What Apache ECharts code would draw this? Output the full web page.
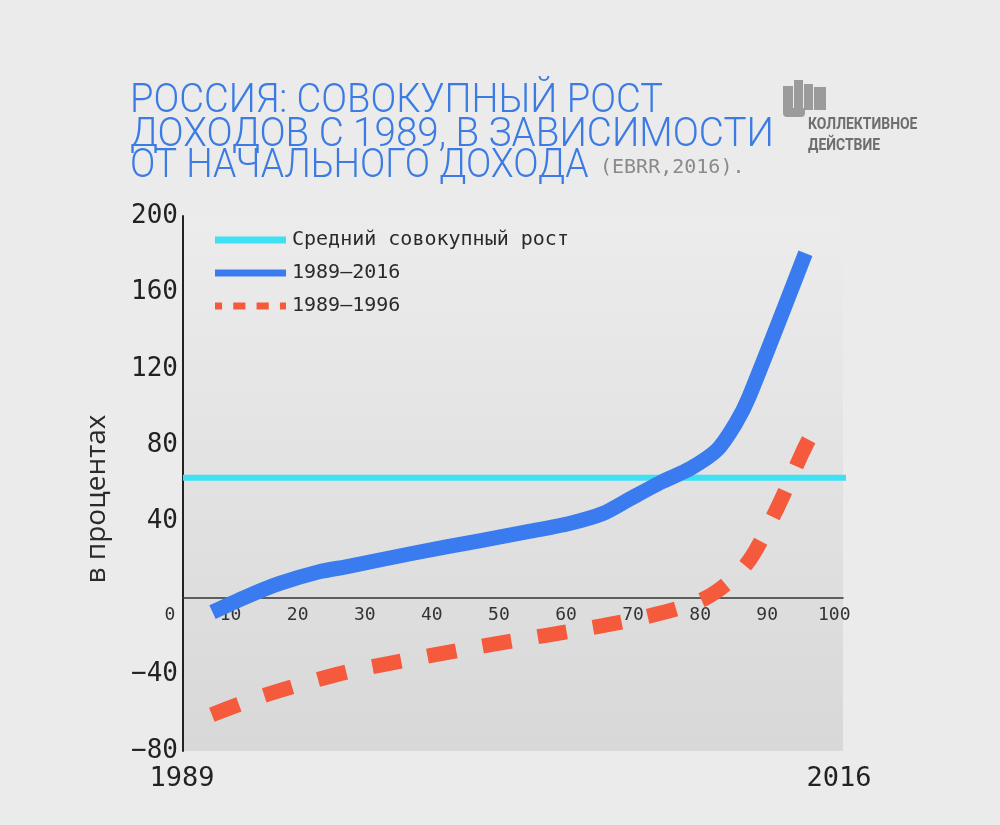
<!DOCTYPE html>
<html>
<head>
<meta charset="utf-8">
<script src="https://cdn.jsdelivr.net/npm/echarts@6/dist/echarts.min.js"></script>
<style>
  html, body { margin: 0; padding: 0; background: #ebebeb; }
  #chart { width: 1000px; height: 825px; }
</style>
</head>
<body>
<div id="chart"></div>
<script>
// ---- data ----
const seriesNames = ['Средний совокупный рост', '1989–2016', '1989–1996'];
const xTickValues = [10, 20, 30, 40, 50, 60, 70, 80, 90, 100];
const yTickValues = [-80, -40, 0, 40, 80, 120, 160, 200];
const avgGrowth = 63;
const avgExtent = [2.9, 101.8];
const pct2016 = [7.3, 12.3, 17.3, 23.2, 27.2, 37.2, 47.1, 54.5, 60.5, 65.5, 69.4, 74.2, 78.6, 82.5, 85.3, 87.3, 95.7];
const val2016 = [-7.3, 0.7, 7.7, 13.8, 16.4, 23.5, 30, 34.9, 39.1, 44.3, 51.7, 60.7, 68, 77.5, 91.5, 105.4, 180.5];
const pct1996 = [7.2, 13.9, 20.9, 28.1, 36.2, 44.5, 52.7, 61, 70.9, 80.7, 86.8, 91.1, 95.3, 96.2];
const val1996 = [-61, -52.2, -44.7, -38, -32.5, -27, -22, -17.1, -10.6, -0.2, 17.3, 44.3, 76.6, 83];
const titleLines = ['РОССИЯ: СОВОКУПНЫЙ РОСТ', 'ДОХОДОВ С 1989, В ЗАВИСИМОСТИ', 'ОТ НАЧАЛЬНОГО ДОХОДА'];
const sourceNote = '(EBRR,2016).';
const yAxisTitle = 'в процентах';
const startYear = '1989';
const endYear = '2016';
const logoLines = ['КОЛЛЕКТИВНОЕ', 'ДЕЙСТВИЕ'];

const zip = (a, b) => a.map((v, i) => [v, b[i]]);
const MONO = '"DejaVu Sans Mono", monospace';
const BLUE = '#3a7cef';
const RED = '#f55a3c';
const CYAN = '#3ee0f4';
const TITLE = '#3b7be3';
const DASH = 29, GAP = 27;

const chart = echarts.init(document.getElementById('chart'));
const option = {
  backgroundColor: '#ebebeb',
  animation: false,
  grid: {
    left: 183, right: 157, top: 216, bottom: 74,
    show: true, borderWidth: 0,
    backgroundColor: new echarts.graphic.LinearGradient(0, 0, 0, 1, [
      { offset: 0, color: '#ececec' }, { offset: 1, color: '#d8d8d8' }
    ])
  },
  legend: {
    orient: 'vertical', left: 210, top: 225,
    itemWidth: 71, itemHeight: 20, itemGap: 13,
    textStyle: { fontFamily: MONO, fontSize: 20, color: '#2a2a2a', padding: [0, 0, 0, 1] },
    data: [
      { name: seriesNames[0], icon: 'path://M0,0 L70,0 L70,7 L0,7 Z', itemStyle: { color: CYAN } },
      { name: seriesNames[1], icon: 'path://M0,0 L70,0 L70,7 L0,7 Z', itemStyle: { color: BLUE } },
      { name: seriesNames[2], icon: 'path://M0,0 L7,0 L7,7 L0,7 Z M18,0 L30,0 L30,7 L18,7 Z M41,0 L53,0 L53,7 L41,7 Z M64,0 L70,0 L70,7 L64,7 Z', itemStyle: { color: RED } }
    ]
  },
  xAxis: {
    type: 'value', min: 2.9, max: 101.3,
    axisLine: { show: true, onZero: true, lineStyle: { color: '#333', width: 1.5 } },
    axisTick: { show: false },
    splitLine: { show: false },
    axisLabel: { customValues: xTickValues, fontFamily: MONO, fontSize: 18, color: '#333', margin: -145 }
  },
  yAxis: {
    type: 'value', min: -80, max: 200, interval: 40,
    axisLine: { show: true, lineStyle: { color: '#222', width: 2 } },
    axisTick: { show: false },
    splitLine: { show: false },
    axisLabel: {
      customValues: yTickValues,
      fontFamily: MONO, fontSize: 26, color: '#222', margin: 5,
      formatter: v => (v === 0 ? '' : String(v).replace('-', '−'))
    }
  },
  graphic: [
    { type: 'text', left: 130, top: 82, style: { text: titleLines[0], font: '300 40px Roboto', fill: TITLE }, scaleX: 0.953 },
    { type: 'text', left: 130, top: 116, style: { text: titleLines[1], font: '300 40px Roboto', fill: TITLE }, scaleX: 0.965 },
    { type: 'text', left: 130, top: 147, style: { text: titleLines[2], font: '300 40px Roboto', fill: TITLE }, scaleX: 0.935 },
    { type: 'text', left: 600, top: 158, style: { text: sourceNote, font: '20px ' + MONO, fill: '#8a8a8a' } },
    // logo icon
    { type: 'rect', shape: { x: 783, y: 86, width: 10, height: 24 }, style: { fill: '#9b9b9b' } },
    { type: 'rect', shape: { x: 794, y: 80, width: 9, height: 30 }, style: { fill: '#9b9b9b' } },
    { type: 'rect', shape: { x: 804, y: 84, width: 9, height: 26 }, style: { fill: '#9b9b9b' } },
    { type: 'rect', shape: { x: 814, y: 87, width: 12, height: 23 }, style: { fill: '#9b9b9b' } },
    { type: 'rect', shape: { x: 783, y: 108, width: 22, height: 9, r: [0, 0, 4, 4] }, style: { fill: '#9b9b9b' } },
    { type: 'text', left: 808, top: 116, style: { text: logoLines[0], font: 'bold 17px Roboto', fill: '#6e6e6e' }, scaleX: 0.82 },
    { type: 'text', left: 808, top: 137, style: { text: logoLines[1], font: 'bold 17px Roboto', fill: '#6e6e6e' }, scaleX: 0.82 },
    // y axis title
    { type: 'text', x: 97, y: 499, rotation: Math.PI / 2,
      style: { text: yAxisTitle, font: '28px "Open Sans"', fill: '#2a2a2a', align: 'center', verticalAlign: 'middle' } },
    // origin label
    { type: 'text', x: 170, y: 615, style: { text: '0', font: '18px ' + MONO, fill: '#333', align: 'center', verticalAlign: 'middle' } },
    { type: 'text', x: 182, y: 779, style: { text: startYear, font: '27px ' + MONO, fill: '#222', align: 'center', verticalAlign: 'middle' } },
    { type: 'text', x: 839, y: 779, style: { text: endYear, font: '27px ' + MONO, fill: '#222', align: 'center', verticalAlign: 'middle' } }
  ],
  series: [
    {
      name: seriesNames[0], type: 'line', symbol: 'none', silent: true,
      data: avgExtent.map(x => [x, avgGrowth]),
      lineStyle: { color: CYAN, width: 6 }, clip: false, z: 2
    },
    {
      name: seriesNames[1], type: 'line', symbol: 'none', silent: true,
      data: zip(pct2016, val2016), smooth: 0.25,
      lineStyle: { color: BLUE, width: 15, cap: 'butt', join: 'round' }, z: 3
    },
    {
      name: seriesNames[2], type: 'line', symbol: 'none', silent: true,
      data: zip(pct1996, val1996), smooth: 0.3,
      lineStyle: { color: RED, width: 15, type: [DASH, GAP], dashOffset: 0, cap: 'butt' }, z: 4
    }
  ]
};
chart.setOption(option);

// align the dash pattern so the dashed line ends on a full dash
const pts = zip(pct1996, val1996).map(p => chart.convertToPixel({ gridIndex: 0 }, p));
let len = 0;
for (let i = 1; i < pts.length; i++) len += Math.hypot(pts[i][0] - pts[i - 1][0], pts[i][1] - pts[i - 1][1]);
const period = DASH + GAP;
const offset = (((DASH - len) % period) + period) % period;
chart.setOption({ series: [{}, {}, { lineStyle: { dashOffset: offset } }] });
</script>
</body>
</html>
